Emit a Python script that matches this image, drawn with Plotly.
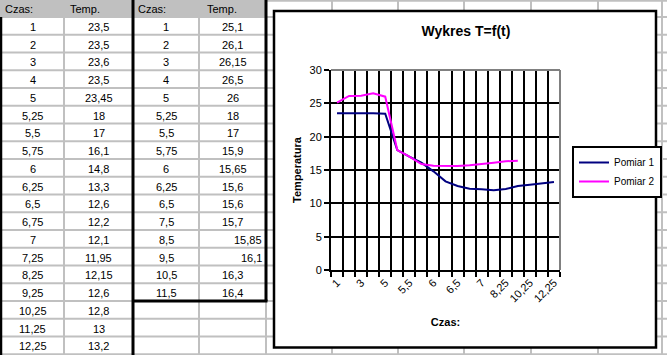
import plotly.graph_objects as go

W, H = 667, 355
FONT = "Liberation Sans, Arial, sans-serif"

# ---- data ----
czas1 = [1, 2, 3, 4, 5, 5.25, 5.5, 5.75, 6, 6.25, 6.5, 6.75, 7, 7.25, 8.25, 9.25, 10.25, 11.25, 12.25]
temp1 = [23.5, 23.5, 23.6, 23.5, 23.45, 18, 17, 16.1, 14.8, 13.3, 12.6, 12.2, 12.1, 11.95, 12.15, 12.6, 12.8, 13, 13.2]
czas2 = [1, 2, 3, 4, 5, 5.25, 5.5, 5.75, 6, 6.25, 6.5, 7.5, 8.5, 9.5, 10.5, 11.5]
temp2 = [25.1, 26.1, 26.15, 26.5, 26, 18, 17, 15.9, 15.65, 15.6, 15.6, 15.7, 15.85, 16.1, 16.3, 16.4]
header = ["Czas:", "Temp."]
series_names = ["Pomiar 1", "Pomiar 2"]
title_text = "Wykres T=f(t)"
x_title = "Czas:"
y_title = "Temperatura"
right_aligned_t2 = {12, 13}  # cells Excel shows right-aligned


def fmt(v):
    return f"{v:g}".replace(".", ",")


def px(x):
    return x / W


def py(y):
    return 1 - y / H


# ---- spreadsheet geometry ----
ROW0, ROWH = 17.0, 17.75
col_edges = [0, 64, 133, 199, 266, 332, 398, 464, 531, 598, 662]
GRID = "#C0C0C0"

shapes = []
# gray cell gridlines
for k in range(21):
    y = ROW0 + ROWH * k
    shapes.append(dict(type="line", xref="paper", yref="paper", x0=0, x1=1, y0=py(y), y1=py(y),
                       line=dict(color=GRID, width=2), layer="below"))
shapes.append(dict(type="line", xref="paper", yref="paper", x0=0, x1=1, y0=py(0.8), y1=py(0.8),
                   line=dict(color=GRID, width=2), layer="below"))
for x in col_edges[1:]:
    shapes.append(dict(type="line", xref="paper", yref="paper", x0=px(x), x1=px(x), y0=0, y1=1,
                       line=dict(color=GRID, width=2), layer="below"))
# header fill
shapes.append(dict(type="rect", xref="paper", yref="paper", x0=0, x1=px(266), y0=py(ROW0), y1=1,
                   fillcolor=GRID, line=dict(width=0), layer="below"))
# black table borders
n1, n2 = len(temp1), len(temp2)
bottom2 = ROW0 + ROWH * n2
shapes += [
    dict(type="line", xref="paper", yref="paper", x0=px(1), x1=px(1), y0=0, y1=py(ROW0),
         line=dict(color="black", width=2.5), layer="below"),
    dict(type="line", xref="paper", yref="paper", x0=px(133), x1=px(133), y0=0, y1=1,
         line=dict(color="black", width=3), layer="below"),
    dict(type="line", xref="paper", yref="paper", x0=px(266), x1=px(266), y0=py(bottom2), y1=1,
         line=dict(color="black", width=3), layer="below"),
    dict(type="line", xref="paper", yref="paper", x0=px(133), x1=px(267.5), y0=py(bottom2), y1=py(bottom2),
         line=dict(color="black", width=3), layer="below"),
]
# chart area
shapes.append(dict(type="rect", xref="paper", yref="paper", x0=px(274), x1=px(656), y0=py(347.5), y1=py(11),
                   fillcolor="white", line=dict(color="black", width=2.5), layer="below"))
# plot area top/right border (gray)
PX0, PX1, PY0, PY1 = 331, 560, 70, 270
shapes += [
    dict(type="line", xref="paper", yref="paper", x0=px(PX0), x1=px(PX1), y0=py(PY0), y1=py(PY0),
         line=dict(color="#808080", width=2), layer="above"),
    dict(type="line", xref="paper", yref="paper", x0=px(PX1), x1=px(PX1), y0=py(PY1), y1=py(PY0),
         line=dict(color="#808080", width=2), layer="above"),
]

# ---- table text ----
ann = []
tf = dict(family=FONT, size=11, color="black")
for (x, t) in [(3, header[0]), (68, header[1]), (136, header[0]), (205, header[1])]:
    ann.append(dict(x=px(x), y=py(9.5), xref="paper", yref="paper", text=t, showarrow=False,
                    xanchor="left", yanchor="middle", font=tf))


def cell(xc, i, text, align="center", xr=None):
    y = ROW0 + ROWH * (i + 0.5) + 1
    if align == "center":
        ann.append(dict(x=px(xc), y=py(y), xref="paper", yref="paper", text=text, showarrow=False,
                        xanchor="center", yanchor="middle", font=tf))
    else:
        ann.append(dict(x=px(xr), y=py(y), xref="paper", yref="paper", text=text, showarrow=False,
                        xanchor="right", yanchor="middle", font=tf))


for i in range(n1):
    cell(32.5, i, fmt(czas1[i]))
    cell(98.5, i, fmt(temp1[i]))
for i in range(n2):
    cell(166, i, fmt(czas2[i]))
    if i in right_aligned_t2:
        cell(None, i, fmt(temp2[i]), align="right", xr=264)
    else:
        cell(232.5, i, fmt(temp2[i]))

# ---- chart ----
fig = go.Figure()
fig.add_trace(go.Scatter(x=list(range(n1)), y=temp1, mode="lines", name=series_names[0],
                         line=dict(color="#000080", width=2)))
fig.add_trace(go.Scatter(x=list(range(n2)), y=temp2, mode="lines", name=series_names[1],
                         line=dict(color="#FF00FF", width=2)))

even = list(range(0, n1, 2))
fig.update_layout(
    width=W, height=H, autosize=False,
    margin=dict(l=0, r=0, t=0, b=0, autoexpand=False),
    paper_bgcolor="white", plot_bgcolor="#C0C0C0",
    font=dict(family=FONT, size=11, color="black"),
    title=dict(text=f"<b>{title_text}</b>", x=px(466), y=py(31), xref="paper", yref="paper",
               xanchor="center", yanchor="middle", font=dict(family=FONT, size=14, color="black")),
    xaxis=dict(domain=[px(PX0), px(PX1)], range=[-0.5, n1 - 0.5],
               tickmode="array", tickvals=even, ticktext=[fmt(czas1[i]) for i in even],
               tickangle=-45, ticks="", showgrid=False, zeroline=False,
               showline=True, linecolor="black", linewidth=2,
               tickfont=dict(family=FONT, size=11, color="black"),
               minor=dict(tickmode="array", tickvals=[i - 0.5 for i in range(n1 + 1)],
                          showgrid=True, gridcolor="black", gridwidth=2,
                          ticks="outside", ticklen=5, tickcolor="black", tickwidth=2),
               title=dict(text=f"<b>{x_title}</b>", standoff=15,
                          font=dict(family=FONT, size=11, color="black"))),
    yaxis=dict(domain=[py(PY1), py(PY0)], range=[0, 30], tickmode="linear", tick0=0, dtick=5,
               ticks="outside", ticklen=5, tickcolor="black", tickwidth=2,
               showgrid=True, gridcolor="black", gridwidth=2, zeroline=False,
               showline=True, linecolor="black", linewidth=2,
               tickfont=dict(family=FONT, size=11, color="black"),
               title=dict(text=f"<b>{y_title}</b>", standoff=6,
                          font=dict(family=FONT, size=11, color="black"))),
    legend=dict(x=px(572), y=py(146), xanchor="left", yanchor="top", bgcolor="white",
                bordercolor="black", borderwidth=2, font=dict(family=FONT, size=10, color="black"),
                tracegroupgap=0),
    shapes=shapes, annotations=ann,
)

fig.write_html("out.html", config={"displayModeBar": False},
               post_script="document.body.style.margin='0';document.body.style.padding='0';")
